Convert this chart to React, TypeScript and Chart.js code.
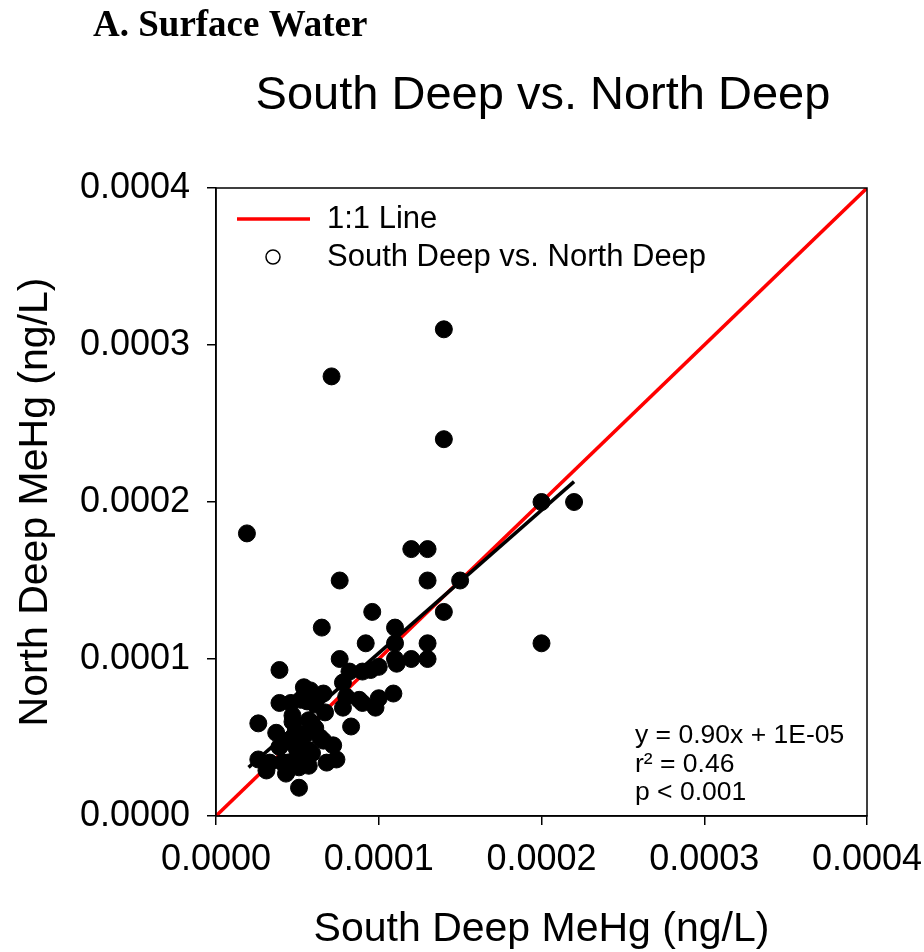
import React, { useEffect, useRef } from 'react';
import { Chart, registerables } from 'chart.js';

Chart.register(...registerables);

// South Deep MeHg (x) vs North Deep MeHg (y), ng/L
const southDeep = [
  1.9e-5, 7.1e-5, 14.0e-5, 14.0e-5, 20.0e-5, 22.0e-5, 20.0e-5, 12.0e-5, 13.0e-5, 7.6e-5,
  13.0e-5, 15.0e-5, 14.0e-5, 9.6e-5, 6.5e-5, 11.0e-5, 9.2e-5, 11.0e-5, 13.0e-5, 7.6e-5,
  11.0e-5, 12.0e-5, 13.0e-5, 3.9e-5, 8.2e-5, 9.0e-5, 10.0e-5, 11.1e-5, 5.4e-5, 6.6e-5,
  7.8e-5, 8.0e-5, 8.8e-5, 10.0e-5, 10.9e-5, 3.9e-5, 4.6e-5, 6.1e-5, 7.8e-5, 9.0e-5,
  9.8e-5, 4.7e-5, 5.7e-5, 2.6e-5, 3.7e-5, 4.9e-5, 6.1e-5, 8.3e-5, 6.6e-5, 7.2e-5,
  3.9e-5, 4.9e-5, 5.7e-5, 2.6e-5, 3.3e-5, 4.1e-5, 5.1e-5, 5.7e-5, 6.8e-5, 7.4e-5,
  3.1e-5, 4.3e-5, 5.1e-5, 5.1e-5, 5.2e-5, 5.9e-5, 4.4e-5, 4.7e-5, 5.8e-5, 6.7e-5,
  4.4e-5, 5.2e-5, 9.5e-5, 4.7e-5, 5.5e-5, 6.4e-5, 5.9e-5, 5.0e-5, 4.4e-5, 5.6e-5,
];
const northDeep = [
  18.0e-5, 28.0e-5, 31.0e-5, 24.0e-5, 20.0e-5, 20.0e-5, 11.0e-5, 17.0e-5, 17.0e-5, 15.0e-5,
  15.0e-5, 15.0e-5, 13.0e-5, 13.0e-5, 12.0e-5, 12.0e-5, 11.0e-5, 11.0e-5, 11.0e-5, 10.0e-5,
  10.0e-5, 10.0e-5, 10.0e-5, 9.3e-5, 9.2e-5, 9.2e-5, 9.5e-5, 9.7e-5, 8.2e-5, 7.8e-5,
  8.5e-5, 7.6e-5, 7.4e-5, 7.5e-5, 7.8e-5, 7.2e-5, 7.2e-5, 7.1e-5, 6.9e-5, 7.2e-5,
  6.9e-5, 6.0e-5, 6.1e-5, 5.9e-5, 5.3e-5, 5.4e-5, 5.6e-5, 5.7e-5, 4.8e-5, 4.5e-5,
  4.4e-5, 4.4e-5, 4.2e-5, 3.6e-5, 3.4e-5, 3.4e-5, 3.8e-5, 3.2e-5, 3.4e-5, 3.6e-5,
  2.9e-5, 2.7e-5, 3.1e-5, 1.8e-5, 7.4e-5, 5.9e-5, 3.4e-5, 6.4e-5, 8.0e-5, 6.6e-5,
  4.8e-5, 4.5e-5, 9.3e-5, 5.0e-5, 5.2e-5, 5.0e-5, 4.0e-5, 3.9e-5, 2.9e-5, 7.3e-5,
];

const oneToOneX = [0, 0.0004];
const oneToOneY = [0, 0.0004];
const fitX = [0.00002, 0.00022];
const fitY = [0.000031, 0.000213];

const tickValues = [0, 0.0001, 0.0002, 0.0003, 0.0004];
const tickLabels = ['0.0000', '0.0001', '0.0002', '0.0003', '0.0004'];

const panelLabel = 'A. Surface Water';
const chartTitle = 'South Deep vs. North Deep';
const xTitle = 'South Deep MeHg (ng/L)';
const yTitle = 'North Deep MeHg (ng/L)';
const legendLine = '1:1 Line';
const legendPoints = 'South Deep vs. North Deep';
const equationLines = ['y = 0.90x + 1E-05', 'r\u00B2 = 0.46', 'p < 0.001'];

const SANS = '"Liberation Sans", Arial, sans-serif';
const SERIF = '"Liberation Serif", "Times New Roman", serif';

const overlay = {
  id: 'overlay',
  afterDraw(chart: any) {
    const { ctx, chartArea: a } = chart;
    ctx.save();
    // frame
    ctx.strokeStyle = '#000';
    ctx.lineWidth = 1.5;
    ctx.strokeRect(a.left, a.top, a.right - a.left, a.bottom - a.top);

    // panel label
    ctx.fillStyle = '#000';
    ctx.textBaseline = 'middle';
    ctx.textAlign = 'left';
    ctx.font = `bold 37px ${SERIF}`;
    ctx.fillText(panelLabel, 93, 26);

    // title
    ctx.textAlign = 'center';
    ctx.font = `47px ${SANS}`;
    ctx.fillText(chartTitle, 543, 96);

    // legend
    ctx.textAlign = 'left';
    ctx.font = `31px ${SANS}`;
    ctx.strokeStyle = '#ff0000';
    ctx.lineWidth = 3.5;
    ctx.beginPath();
    ctx.moveTo(a.left + 21, a.top + 31);
    ctx.lineTo(a.left + 94, a.top + 31);
    ctx.stroke();
    ctx.fillText(legendLine, a.left + 111, a.top + 31);
    ctx.strokeStyle = '#000';
    ctx.lineWidth = 1.5;
    ctx.beginPath();
    ctx.arc(a.left + 57, a.top + 69, 7, 0, Math.PI * 2);
    ctx.stroke();
    ctx.fillText(legendPoints, a.left + 111, a.top + 69);

    // regression stats
    ctx.font = `26.5px ${SANS}`;
    equationLines.forEach((t, i) => {
      ctx.fillText(t, 635, 736 + i * 28.5);
    });
    ctx.restore();
  },
};

export default function App() {
  const ref = useRef<HTMLCanvasElement | null>(null);

  useEffect(() => {
    document.body.style.margin = '0';
    const canvas = ref.current;
    if (!canvas) return;
    const points = southDeep.map((x, i) => ({ x, y: northDeep[i] }));
    const oneToOne = oneToOneX.map((x, i) => ({ x, y: oneToOneY[i] }));
    const fit = fitX.map((x, i) => ({ x, y: fitY[i] }));

    const axis = (title: string, isX: boolean) => ({
      type: 'linear' as const,
      min: 0,
      max: 0.0004,
      afterBuildTicks: (scale: any) => {
        scale.ticks = tickValues.map((v) => ({ value: v }));
      },
      afterFit: (scale: any) => {
        if (isX) scale.height = 136;
        else scale.width = 216;
        scale.paddingLeft = 0;
        scale.paddingRight = 0;
        scale.paddingTop = 0;
        scale.paddingBottom = 0;
      },
      ticks: {
        color: '#000',
        font: { family: SANS, size: 36 },
        padding: isX ? 13 : 17,
        maxRotation: 0,
        autoSkip: false,
        callback: (v: number) => {
          const idx = tickValues.findIndex((t) => Math.abs(t - v) < 1e-9);
          return idx >= 0 ? tickLabels[idx] : '';
        },
      },
      grid: {
        drawOnChartArea: false,
        drawTicks: true,
        tickLength: 9,
        color: '#000',
        lineWidth: 1.5,
      },
      border: { display: true, color: '#000', width: 1.5 },
      title: {
        display: true,
        text: title,
        color: '#000',
        font: { family: SANS, size: 41 },
        padding: isX ? { top: 0, bottom: -2 } : { top: 11, bottom: 0 },
      },
    });

    const chart = new Chart(canvas, {
      type: 'scatter',
      data: {
        datasets: [
          {
            label: legendPoints,
            data: points,
            backgroundColor: '#000',
            borderColor: '#000',
            borderWidth: 1,
            pointRadius: 8.5,
            order: 0,
          },
          {
            type: 'line',
            label: 'fit',
            data: fit,
            borderColor: '#000',
            borderWidth: 3.5,
            pointRadius: 0,
            showLine: true,
            fill: false,
            order: 1,
          },
          {
            type: 'line',
            label: legendLine,
            data: oneToOne,
            borderColor: '#ff0000',
            borderWidth: 3.5,
            pointRadius: 0,
            showLine: true,
            fill: false,
            order: 2,
          },
        ],
      } as any,
      options: {
        responsive: false,
        animation: false,
        events: [],
        layout: { padding: { top: 188, left: 0, right: 57, bottom: 0 } },
        plugins: {
          legend: { display: false },
          tooltip: { enabled: false },
          title: { display: false },
        },
        scales: {
          x: axis(xTitle, true),
          y: axis(yTitle, false),
        },
      } as any,
      plugins: [overlay],
    });
    return () => chart.destroy();
  }, []);

  return (
    <canvas
      ref={ref}
      width={924}
      height={952}
      style={{ display: 'block', position: 'absolute', left: 0, top: 0, width: 924, height: 952 }}
    />
  );
}
